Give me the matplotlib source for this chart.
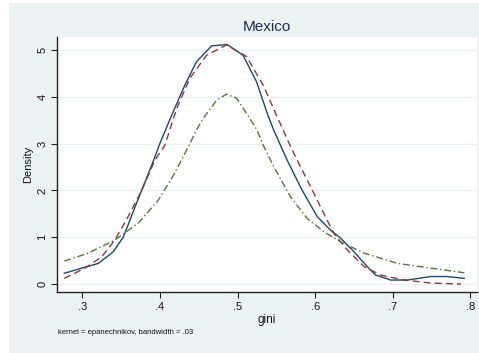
import numpy as np
import matplotlib
matplotlib.use("Agg")
from matplotlib import pyplot as plt
from matplotlib.patches import Rectangle

plt.rcParams['font.family'] = ['Liberation Sans', 'DejaVu Sans']

# kernel density
kde_x = [0.2768, 0.3035, 0.3206, 0.340, 0.353, 0.368, 0.381, 0.3936, 0.400,
         0.417, 0.432, 0.447, 0.4665, 0.4866, 0.507, 0.5245, 0.539, 0.5465,
         0.5638, 0.583, 0.6026, 0.6198, 0.6327, 0.6499, 0.6671, 0.678, 0.6973,
         0.719, 0.749, 0.770, 0.792]
kde_y = [0.23, 0.36, 0.44, 0.69, 1.01, 1.65, 2.19, 2.72, 3.01,
         3.68, 4.25, 4.75, 5.09, 5.12, 4.89, 4.32, 3.61, 3.29,
         2.65, 2.01, 1.44, 1.15, 0.98, 0.69, 0.37, 0.19, 0.085,
         0.085, 0.16, 0.16, 0.12]

# normal
norm_x = [0.2768, 0.3035, 0.325, 0.342, 0.359, 0.3765, 0.3936, 0.4064, 0.4215,
          0.4386, 0.460, 0.4858, 0.5116, 0.533, 0.550, 0.5673, 0.5767, 0.594,
          0.611, 0.624, 0.6413, 0.663, 0.6844, 0.7145, 0.749, 0.7877]
norm_y = [0.12, 0.34, 0.58, 0.94, 1.44, 2.0, 2.65, 2.97, 3.75,
          4.40, 4.89, 5.11, 4.86, 4.25, 3.61, 2.97, 2.65, 2.08,
          1.51, 1.08, 0.73, 0.37, 0.19, 0.085, 0.02, 0.0]

# terceira curva (verde)
verde_x = [0.2768, 0.3077, 0.342, 0.372, 0.3978, 0.419, 0.4364, 0.447, 0.4557,
           0.473, 0.4858, 0.4987, 0.5158, 0.525, 0.533, 0.5465, 0.568, 0.5897,
           0.611, 0.6327, 0.663, 0.706, 0.749, 0.792]
verde_y = [0.49, 0.66, 0.94, 1.30, 1.79, 2.37, 2.93, 3.29, 3.54,
           3.93, 4.06, 3.97, 3.54, 3.29, 2.97, 2.51, 1.87, 1.40,
           1.12, 0.90, 0.66, 0.44, 0.34, 0.24]

xticks = [0.3, 0.4, 0.5, 0.6, 0.7, 0.8]
xlabels = ['.3', '.4', '.5', '.6', '.7', '.8']
yticks = [0, 1, 2, 3, 4, 5]

fundo = '#eaf2f3'

fig = plt.figure(figsize=(4.79, 3.53), dpi=100, facecolor='white')
fig.patches.append(Rectangle((9 / 479, 0), 1 - 9 / 479, 1 - 3 / 353,
                             transform=fig.transFigure, facecolor=fundo,
                             edgecolor='none', zorder=-10))

ax = fig.add_axes([57 / 479, 1 - 292 / 353, (477 - 57) / 479, (292 - 37) / 353])
ax.set_zorder(1)
ax.set_facecolor('white')

ax.plot(kde_x, kde_y, color='#1a476f', lw=1.0, zorder=3)
ax.plot(norm_x, norm_y, color='#90353b', lw=1.0, ls=(0, (5, 3)), zorder=3)
ax.plot(verde_x, verde_y, color='#55752f', lw=1.0, ls=(0, (5, 2, 1, 2)), zorder=3)

ax.set_xlim(0.2674, 0.8084)
ax.set_ylim(-0.171, 5.28)
ax.set_xticks(xticks)
ax.set_xticklabels(xlabels)
ax.set_yticks(yticks)
ax.set_yticklabels([str(v) for v in yticks], rotation=90, va='center')
ax.yaxis.grid(True, color=fundo, lw=1.0)
ax.set_axisbelow(True)

for s in ['top', 'right']:
    ax.spines[s].set_visible(False)
for s in ['left', 'bottom']:
    ax.spines[s].set_color('#222222')
    ax.spines[s].set_linewidth(1.0)
ax.tick_params(direction='out', length=4, width=0.8, color='#222222',
               labelsize=8, labelcolor='#111111', pad=3)

ax.set_xlabel('gini', fontsize=8.5, color='#111111', labelpad=2)
ax.set_ylabel('Density', fontsize=8, color='#111111', labelpad=3)
ax.set_title('Mexico', fontsize=11, color='#1e2b4f', pad=4)

fig.text(58 / 479, 1 - 333 / 353, 'kernel = epanechnikov, bandwidth = .03',
         fontsize=5.5, color='#111111', va='center', ha='left')

fig.savefig('out.png', dpi=100, facecolor='white')
